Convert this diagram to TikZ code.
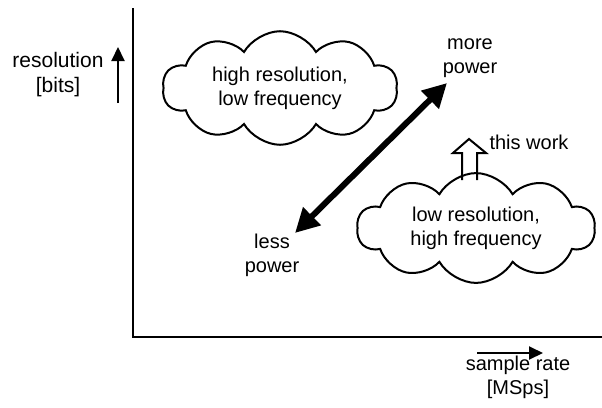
\documentclass[tikz,border=0pt]{standalone}
\usepackage{fontspec}
\setmainfont{Liberation Sans}
\usetikzlibrary{arrows.meta,shapes.symbols}
\begin{document}
\begin{tikzpicture}[x=1pt,y=-1pt,
    lbl/.style={align=center,font=\fontsize{20}{24}\selectfont},
    blob/.style={draw,cloud,cloud puffs=10,cloud puff arc=120,aspect=2.3,
      line width=2pt,inner sep=0pt,lbl},
    axis/.style={line width=2.2pt},
    dirarrow/.style={line width=2pt,-{Triangle[length=14pt,width=13pt]}}]
  \useasboundingbox (0,0) rectangle (602,407);
  % axes
  \coordinate (top) at (133,8);
  \coordinate (origin) at (133,337);
  \coordinate (right) at (602,337);
  \draw[axis] (top) -- (origin) -- (right);
  % axis labels
  \node[lbl,font=\fontsize{21}{25}\selectfont] (ylabel) at (58,75) {resolution\\{[bits]}};
  \coordinate (yfrom) at (118,103);
  \coordinate (yto) at (118,47);
  \draw[dirarrow] (yfrom) -- (yto);
  \node[lbl] (xlabel) at (518,377) {sample rate\\{[MSps]}};
  \coordinate (xfrom) at (477,353);
  \coordinate (xto) at (543,353);
  \draw[dirarrow] (xfrom) -- (xto);
  % clouds
  \node[blob,minimum width=235pt,minimum height=103pt] (hires) at (280,88)
    {high resolution,\\low frequency};
  \node[blob,minimum width=238pt,minimum height=103pt] (lores) at (476,228)
    {low resolution,\\high frequency};
  % power trade-off
  \node[lbl] (less) at (272,255) {less\\power};
  \node[lbl] (more) at (470,58) {more\\power};
  \coordinate (lo) at (295,233);
  \coordinate (hi) at (447,83);
  \draw[line width=6pt,{Triangle[length=24pt,width=24pt]}-{Triangle[length=24pt,width=24pt]}] (lo) -- (hi);
  % this work
  \node[lbl,anchor=west] (work) at (486,142) {this work};
  \draw[line width=2pt,line join=miter] (462,180) -- (462,153) -- (453,153) -- (469,139)
    -- (486,153) -- (477,153) -- (477,180);
\end{tikzpicture}
\end{document}
